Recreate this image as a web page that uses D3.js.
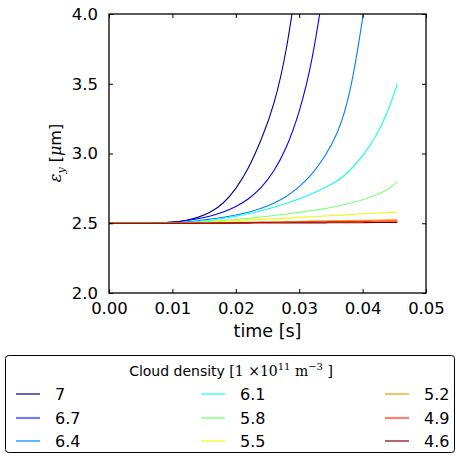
<!DOCTYPE html>
<html><head><meta charset="utf-8">
<script src="https://cdn.jsdelivr.net/npm/d3@7"></script>
<style>
body{margin:0;background:#fff;}
text{font-family:"DejaVu Sans",sans-serif;}
</style></head>
<body><svg id="c" width="456" height="458"></svg>
<script>
// ---- data ----
const times = [0, 0.005, 0.008, 0.010, 0.012, 0.014, 0.016, 0.018, 0.020, 0.022, 0.024, 0.026, 0.028, 0.030, 0.032, 0.034, 0.036, 0.038, 0.040, 0.042, 0.044, 0.0455];
const densities = ["7", "6.7", "6.4", "6.1", "5.8", "5.5", "5.2", "4.9", "4.6"];
const s70 = [2.5, 2.5, 2.502, 2.508, 2.52, 2.542, 2.58, 2.645, 2.75, 2.9, 3.1, 3.36, 3.76, 4.35, null, null, null, null, null, null, null, null];
const s67 = [2.5, 2.5, 2.502, 2.508, 2.518, 2.532, 2.552, 2.58, 2.62, 2.676, 2.757, 2.876, 3.05, 3.304, 3.676, 4.22, null, null, null, null, null, null];
const s64 = [2.5, 2.5, 2.5, 2.502, 2.508, 2.518, 2.53, 2.543, 2.559, 2.579, 2.607, 2.644, 2.694, 2.762, 2.854, 2.978, 3.15, 3.45, 3.97, 4.6, null, null];
const s61 = [2.5, 2.5, 2.5, 2.501, 2.505, 2.512, 2.522, 2.534, 2.55, 2.568, 2.59, 2.615, 2.643, 2.675, 2.712, 2.755, 2.805, 2.88, 2.985, 3.12, 3.31, 3.50];
const s58 = [2.5, 2.5, 2.5, 2.5, 2.502, 2.506, 2.512, 2.519, 2.527, 2.536, 2.545, 2.555, 2.566, 2.578, 2.591, 2.605, 2.622, 2.643, 2.668, 2.70, 2.745, 2.80];
const s55 = [2.5, 2.5, 2.5, 2.5, 2.502, 2.505, 2.509, 2.514, 2.519, 2.524, 2.528, 2.532, 2.537, 2.542, 2.547, 2.552, 2.557, 2.562, 2.567, 2.572, 2.577, 2.58];
const s52 = [2.5, 2.5, 2.5, 2.5, 2.501, 2.502, 2.503, 2.504, 2.506, 2.507, 2.509, 2.51, 2.512, 2.513, 2.515, 2.516, 2.518, 2.519, 2.521, 2.522, 2.524, 2.525];
const s49 = [2.5, 2.5, 2.5, 2.5, 2.5, 2.501, 2.502, 2.503, 2.504, 2.505, 2.506, 2.507, 2.508, 2.509, 2.51, 2.511, 2.512, 2.512, 2.513, 2.514, 2.515, 2.515];
const s46 = [2.5, 2.5, 2.5, 2.5, 2.5, 2.5, 2.5, 2.501, 2.501, 2.501, 2.502, 2.502, 2.502, 2.503, 2.503, 2.503, 2.504, 2.504, 2.504, 2.505, 2.505, 2.505];
const seriesValues = [s70, s67, s64, s61, s58, s55, s52, s49, s46];
const xTicks = [0, 0.01, 0.02, 0.03, 0.04, 0.05];
const yTicks = [2.0, 2.5, 3.0, 3.5, 4.0];

// ---- styles ----
const lineColors = ["#00008f", "#0000ff", "#0080ff", "#15ffe1", "#7dff7a", "#e4ff13", "#ff9400", "#ff1d00", "#800000"];
const legendColors = ["#00008f", "#7878ff", "#0080ff", "#15ffe1", "#a8ffa8", "#e4ff13", "#ff9400", "#ff8070", "#800000"];
const legendWidths = [1.2, 2.2, 1.2, 1.2, 2.2, 1.2, 1.2, 2.2, 1.2];

const svg = d3.select("#c");
const L = 109, R = 426, T = 14, B = 293;
const x = d3.scaleLinear().domain([0, 0.05]).range([L, R]);
const y = d3.scaleLinear().domain([2, 4]).range([B, T]);

svg.append("defs").append("clipPath").attr("id", "clip")
  .append("rect").attr("x", L).attr("y", T).attr("width", R - L).attr("height", B - T);

const line = d3.line()
  .x(d => x(d[0])).y(d => y(d[1]))
  .curve(d3.curveNatural);

const g = svg.append("g").attr("clip-path", "url(#clip)");
seriesValues.forEach((vals, i) => {
  const pts = times.map((t, j) => [t, vals[j]]).filter(d => d[1] !== null);
  g.append("path").attr("d", line(pts)).attr("fill", "none")
    .attr("stroke", lineColors[i]).attr("stroke-width", 1.1);
});

// axes
const fmtX = d3.format(".2f"), fmtY = d3.format(".1f");
const ax = svg.append("g").attr("transform", `translate(0,${B})`)
  .call(d3.axisBottom(x).tickValues(xTicks).tickFormat(fmtX).tickSizeInner(-4).tickSizeOuter(0).tickPadding(9));
const axT = svg.append("g").attr("transform", `translate(0,${T})`)
  .call(d3.axisTop(x).tickValues(xTicks).tickFormat("").tickSizeInner(-4).tickSizeOuter(0));
const ay = svg.append("g").attr("transform", `translate(${L},0)`)
  .call(d3.axisLeft(y).tickValues(yTicks).tickFormat(fmtY).tickSizeInner(-4).tickSizeOuter(0).tickPadding(11));
const ayR = svg.append("g").attr("transform", `translate(${R},0)`)
  .call(d3.axisRight(y).tickValues(yTicks).tickFormat("").tickSizeInner(-4).tickSizeOuter(0));
[ax, axT, ay, ayR].forEach(a => {
  a.select(".domain").remove();
  a.selectAll("line").attr("stroke", "#000").attr("stroke-width", 1);
  a.selectAll("text").attr("font-family", "DejaVu Sans").attr("font-size", 16.5).attr("fill", "#000");
});
svg.append("rect").attr("x", L).attr("y", T).attr("width", R - L).attr("height", B - T)
  .attr("fill", "none").attr("stroke", "#000").attr("stroke-width", 1.3);

// axis labels
svg.append("text").attr("x", (L + R) / 2).attr("y", 337).attr("text-anchor", "middle")
  .attr("font-size", 17.5).text("time [s]");
const yl = svg.append("text").attr("transform", "translate(61,153) rotate(-90)")
  .attr("text-anchor", "middle").attr("font-size", 16);
yl.append("tspan").attr("font-family", "DejaVu Serif").attr("font-style", "italic").text("ε");
yl.append("tspan").attr("font-family", "DejaVu Serif").attr("font-style", "italic").attr("font-size", 11).attr("dy", 4).text("y");
yl.append("tspan").attr("dy", -4).text(" [");
yl.append("tspan").attr("font-family", "DejaVu Serif").attr("font-style", "italic").text("μ");
yl.append("tspan").text("m]");

// legend
svg.append("rect").attr("x", 5.5).attr("y", 355.5).attr("width", 449).attr("height", 97)
  .attr("rx", 3).attr("fill", "#fff").attr("stroke", "#000").attr("stroke-width", 1);
const lt = svg.append("text").attr("x", 231).attr("y", 376).attr("text-anchor", "middle").attr("font-size", 14);
lt.append("tspan").text("Cloud density ");
const ser = "DejaVu Serif";
lt.append("tspan").attr("font-family", ser).text("[1 ×10");
lt.append("tspan").attr("font-family", ser).attr("font-size", 10).attr("dy", -6).text("11");
lt.append("tspan").attr("font-family", ser).attr("dy", 6).text(" m");
lt.append("tspan").attr("font-family", ser).attr("font-size", 10).attr("dy", -6).text("−3");
lt.append("tspan").attr("font-family", ser).attr("dy", 6).text(" ]");

const colX = [16, 201, 385], rowY = [394, 418, 441];
densities.forEach((d, i) => {
  const c = Math.floor(i / 3), r = i % 3;
  svg.append("line").attr("x1", colX[c]).attr("x2", colX[c] + 24)
    .attr("y1", rowY[r]).attr("y2", rowY[r])
    .attr("stroke", legendColors[i]).attr("stroke-width", legendWidths[i]);
  svg.append("text").attr("x", colX[c] + 39).attr("y", rowY[r] + 6)
    .attr("font-size", 16).text(d);
});
</script></body></html>
